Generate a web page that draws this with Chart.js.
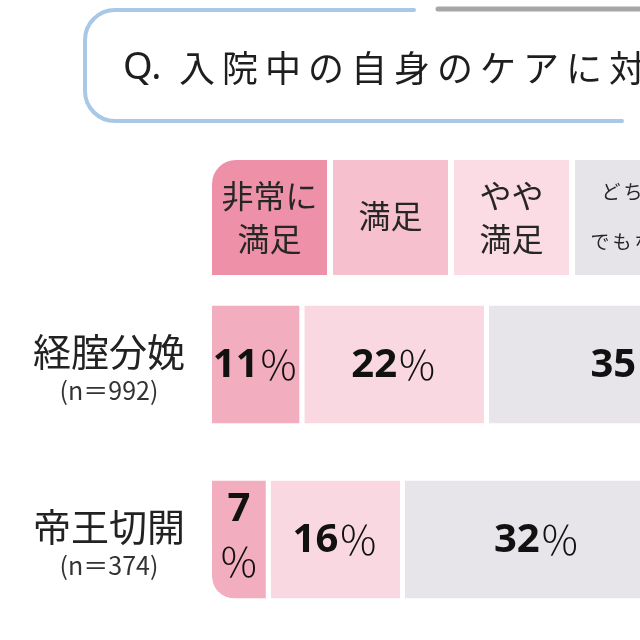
<!DOCTYPE html>
<html><head><meta charset="utf-8">
<script src="https://cdn.jsdelivr.net/npm/chart.js@4/dist/chart.umd.min.js"></script>
<style>html,body{margin:0;padding:0;background:#fff}#wrap{width:640px;height:640px}</style>
</head><body><div id="wrap"><canvas id="c" width="640" height="640"></canvas></div>
<script>
const titlePrefix = "Q.";
const titleText = "入院中の自身のケアに対";
const categories = ["経腟分娩", "帝王切開"];
const sampleSizes = ["(n＝992)", "(n＝374)"];
const seriesNames = ["非常に満足", "満足", "やや満足"];
const headerLines = [["非常に", "満足"], ["満足"], ["やや", "満足"], ["どちら", "でもない"]];
const verySatisfied = [11, 7];
const satisfied = [22, 16];
const somewhatSatisfied = [35, 32];

const barColors = ["#f2adbf", "#f9d8e1", "#e7e4ea"];
const headerColors = ["#ee91a8", "#f7c0ce", "#fbdce4", "#e6e4e9"];
const JP = '"Noto Sans CJK JP", "Noto Sans", sans-serif';

const decor = {
  id: 'decor',
  beforeDraw(chart) {
    const ctx = chart.ctx, a = chart.chartArea;
    ctx.save();
    ctx.fillStyle = '#fff';
    ctx.fillRect(0, 0, chart.width, chart.height);
    // title frame
    ctx.lineCap = 'round';
    ctx.strokeStyle = '#a9c8e6';
    ctx.lineWidth = 4;
    const L = 85, T = 10, B = 121, r = 30;
    ctx.beginPath();
    ctx.moveTo(414, T);
    ctx.lineTo(L + r, T);
    ctx.arcTo(L, T, L, T + r, r);
    ctx.lineTo(L, B - r);
    ctx.arcTo(L, B, L + r, B, r);
    ctx.lineTo(622, B);
    ctx.stroke();
    ctx.strokeStyle = '#a6a6a6';
    ctx.lineWidth = 5;
    ctx.beginPath();
    ctx.moveTo(438, 9);
    ctx.lineTo(660, 9);
    ctx.stroke();
    // title text
    ctx.fillStyle = '#1e1e1e';
    ctx.textBaseline = 'middle';
    ctx.textAlign = 'left';
    ctx.font = '400 38px "Noto Sans", sans-serif';
    ctx.fillText(titlePrefix, 123, 68);
    ctx.font = '400 36px ' + JP;
    ctx.letterSpacing = '7px';
    ctx.fillText(titleText, 179, 68);
    ctx.letterSpacing = '0px';
    // header legend boxes
    const bw = 115, gap = 6, top = a.top - 117, h = 115;
    headerLines.forEach((lines, i) => {
      const x = a.left + i * (bw + gap);
      ctx.fillStyle = headerColors[i];
      ctx.beginPath();
      if (i === 0) {
        ctx.roundRect(x, top, bw, h, [24, 0, 0, 0]);
      } else {
        ctx.rect(x, top, bw, h);
      }
      ctx.fill();
      ctx.fillStyle = '#262626';
      ctx.textAlign = 'center';
      const cx = x + bw / 2, cy = top + h / 2;
      if (i === 3) {
        ctx.font = '400 19px ' + JP;
        ctx.letterSpacing = '3px';
        ctx.fillText(lines[0], cx + 2, cy - 26);
        ctx.fillText(lines[1], cx + 2, cy + 24);
        ctx.letterSpacing = '0px';
      } else {
        ctx.font = '400 32px ' + JP;
        if (lines.length === 1) {
          ctx.fillText(lines[0], cx, cy - 2);
        } else {
          ctx.fillText(lines[0], cx, cy - 22);
          ctx.fillText(lines[1], cx, cy + 21);
        }
      }
    });
    ctx.restore();
  },
  afterDatasetsDraw(chart) {
    const ctx = chart.ctx;
    ctx.save();
    ctx.textBaseline = 'middle';
    const numFont = 'bold 40px "Noto Sans", sans-serif';
    const pctFont = '300 40px ' + JP;
    chart.data.datasets.forEach((ds, di) => {
      const meta = chart.getDatasetMeta(di);
      meta.data.forEach((el, i) => {
        const v = ds.data[i];
        const left = el.base, right = el.x - 5;
        const cx = (left + right) / 2, cy = el.y;
        const num = String(v), pct = '％';
        ctx.font = numFont;
        const wn = ctx.measureText(num).width;
        ctx.font = pctFont;
        const wp = ctx.measureText(pct).width;
        ctx.fillStyle = '#111';
        if (wn + wp > right - left + 4) {
          ctx.textAlign = 'center';
          ctx.font = numFont;
          ctx.fillText(num, cx, cy - 30);
          ctx.font = pctFont;
          ctx.fillText(pct, cx, cy + 22);
        } else {
          const sx = cx - (wn + wp) / 2;
          ctx.textAlign = 'left';
          ctx.font = numFont;
          ctx.fillText(num, sx, cy + 1);
          ctx.font = pctFont;
          ctx.fillText(pct, sx + wn, cy);
        }
      });
    });
    // category labels
    const ys = chart.scales.y;
    categories.forEach((c, i) => {
      const y = ys.getPixelForValue(i);
      ctx.textAlign = 'center';
      ctx.fillStyle = '#222';
      ctx.font = '400 38px ' + JP;
      ctx.fillText(c, 109, y - 13);
      ctx.fillStyle = '#333';
      ctx.font = '400 25px ' + JP;
      ctx.fillText(sampleSizes[i], 109, y + 26);
    });
    ctx.restore();
  }
};

const seriesData = [verySatisfied, satisfied, somewhatSatisfied];
new Chart(document.getElementById('c'), {
  type: 'bar',
  data: {
    labels: categories,
    datasets: seriesNames.map((n, k) => ({
      label: n,
      data: seriesData[k],
      backgroundColor: barColors[k],
      borderColor: '#ffffff',
      borderWidth: {top: 0, right: 5, bottom: 0, left: 0},
      borderSkipped: false,
      borderRadius: k === 0 ? (ctx => ctx.dataIndex === 1 ? {topLeft: 0, topRight: 0, bottomLeft: 22, bottomRight: 0} : {topLeft: 0, topRight: 0, bottomLeft: 0, bottomRight: 0}) : 0,
      categoryPercentage: 0.674,
      barPercentage: 1
    }))
  },
  options: {
    indexAxis: 'y',
    responsive: false,
    animation: false,
    layout: {padding: {left: 212, top: 277, bottom: 13, right: 0}},
    plugins: {legend: {display: false}, tooltip: {enabled: false}},
    scales: {
      x: {stacked: true, min: 0, max: 51, display: false},
      y: {stacked: true, display: false}
    }
  },
  plugins: [decor]
});
</script>
</body></html>
